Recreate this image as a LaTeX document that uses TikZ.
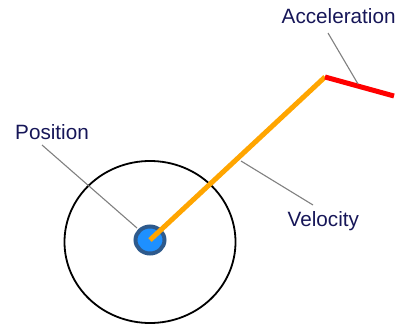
\documentclass[tikz,border=0pt]{standalone}
\usepackage{fontspec}
\setmainfont{Liberation Sans}
\definecolor{txt}{RGB}{22,22,88}
\definecolor{leader}{RGB}{128,128,128}
\definecolor{dotfill}{RGB}{30,144,255}
\definecolor{dotedge}{RGB}{46,90,140}
\definecolor{vel}{RGB}{255,165,0}
\begin{document}
\begin{tikzpicture}[x=1pt,y=-1pt,
  lbl/.style={text=txt,font=\fontsize{20.7}{24}\selectfont,inner sep=0pt,anchor=base west},
  lead/.style={draw=leader,line width=1.1pt},
  vec/.style={line width=5pt}]
\useasboundingbox (0,0) rectangle (399,329);
% outer circle
\draw[line width=1.8pt] (150,242) ellipse [x radius=85.5, y radius=81];
% key points
\coordinate (P) at (150,240);
\coordinate (V) at (325,77);
\coordinate (A) at (394,96);
% leader endpoints
\coordinate (lp1) at (42,145);
\coordinate (lp2) at (137,228);
\coordinate (la1) at (328,33);
\coordinate (la2) at (358,84);
\coordinate (lv1) at (241,161);
\coordinate (lv2) at (313,205);
\draw[lead] (lp1) -- (lp2);
% dot
\draw[draw=dotedge,fill=dotfill,line width=4pt] (P) ellipse [x radius=14.5, y radius=13.5];
% vectors
\draw[vec,draw=vel] (P) -- (V);
\draw[vec,draw=red] (V) -- (A);
\draw[lead] (la1) -- (la2);
\draw[lead] (lv1) -- (lv2);
% labels
\node[lbl] (tpos) at (15,139) {Position};
\node[lbl] (tacc) at (281.5,24) {Acceleration};
\node[lbl] (tvel) at (287.5,226) {Velocity};
\end{tikzpicture}
\end{document}
